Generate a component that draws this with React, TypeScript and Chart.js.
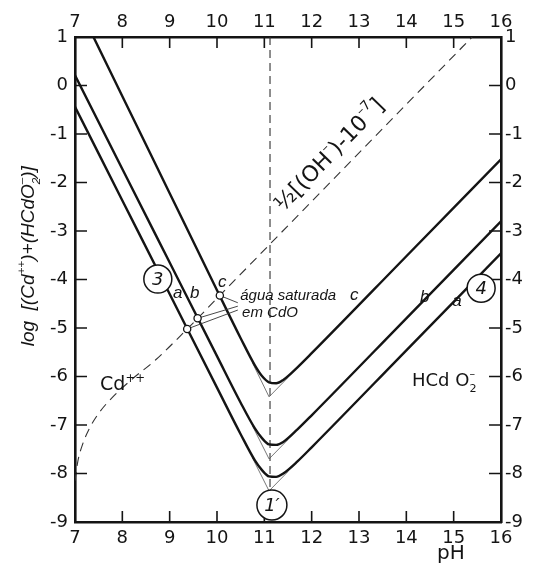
import { useEffect, useRef } from "react";
import { Chart, registerables } from "chart.js";

Chart.register(...registerables);

const INK = "#141414";
const THIN = "#555555";

// axis ticks
const phTicks = [7, 8, 9, 10, 11, 12, 13, 14, 15, 16];
const logTicks = [1, 0, -1, -2, -3, -4, -5, -6, -7, -8, -9];

// solubility curves a, b, c: log[(Cd++)+(HCdO2-)] against pH
const curveA_pH = [7, 8, 9, 10, 10.5, 10.8, 10.95, 11.1, 11.25, 11.4, 11.7, 12, 14, 16];
const curveA_log = [-0.44, -2.37, -4.3, -6.23, -7.19, -7.73, -7.93, -8.06, -8.07, -8.0, -7.75, -7.46, -5.46, -3.46];

const curveB_pH = [7, 8, 9, 10, 10.5, 10.8, 10.95, 11.1, 11.25, 11.4, 11.7, 12, 14, 16];
const curveB_log = [0.21, -1.72, -3.65, -5.58, -6.54, -7.07, -7.27, -7.4, -7.41, -7.35, -7.09, -6.8, -4.8, -2.8];

const curveC_pH = [7.3, 8, 9, 10, 10.5, 10.8, 10.95, 11.1, 11.25, 11.4, 11.7, 12, 14, 16];
const curveC_log = [1.18, -0.22, -2.22, -4.22, -5.21, -5.77, -5.99, -6.12, -6.14, -6.07, -5.81, -5.52, -3.52, -1.52];

// straight asymptotes meeting under each minimum
const tipA_pH = [10.75, 11.1, 11.5];
const tipA_log = [-7.68, -8.36, -7.96];
const tipB_pH = [10.75, 11.1, 11.5];
const tipB_log = [-7.02, -7.7, -7.3];
const tipC_pH = [10.75, 11.1, 11.5];
const tipC_log = [-5.72, -6.42, -6.02];

// 1/2[(OH-) - 1e-7] line
const ohLine_pH = [7.0, 7.06, 7.16, 7.3, 7.5, 7.8, 8.2, 8.7, 9.37, 10.06, 15.39];
const ohLine_log = [-8.15, -7.75, -7.4, -7.08, -6.76, -6.42, -6.06, -5.66, -5.02, -4.33, 1.0];

// vertical at the minimum
const minLine_pH = [11.12, 11.12];
const minLine_log = [1, -8.34];

// water saturated with CdO: where the OH- line meets a, b, c
const satPoint_pH = [9.37, 9.59, 10.06];
const satPoint_log = [-5.02, -4.8, -4.33];
const leaderEnd_pH = [10.44, 10.44, 10.44];
const leaderEnd_log = [-4.63, -4.55, -4.48];

const pts = (xs: number[], ys: number[]) => xs.map((x, i) => ({ x, y: ys[i] }));

type Part = { t: string; s?: number; dy?: number; hold?: boolean };

function richWidth(ctx: CanvasRenderingContext2D, parts: Part[], size: number, family: string, style: string) {
  let w = 0;
  for (const p of parts) {
    ctx.font = `${style} ${size * (p.s ?? 1)}px ${family}`;
    if (!p.hold) w += ctx.measureText(p.t).width;
  }
  return w;
}

function drawRich(
  ctx: CanvasRenderingContext2D,
  parts: Part[],
  x: number,
  y: number,
  size: number,
  family: string,
  style: string,
  align: "left" | "center" = "left"
) {
  const w = richWidth(ctx, parts, size, family, style);
  let cx = align === "center" ? x - w / 2 : x;
  ctx.textAlign = "left";
  ctx.textBaseline = "alphabetic";
  for (const p of parts) {
    ctx.font = `${style} ${size * (p.s ?? 1)}px ${family}`;
    ctx.fillText(p.t, cx, y + (p.dy ?? 0) * size);
    if (!p.hold) cx += ctx.measureText(p.t).width;
  }
}

const SANS = "'Liberation Sans', Arial, sans-serif";
const LETTER = "'DejaVu Sans', sans-serif";

const diagramPlugin = {
  id: "cdDiagram",
  afterDatasetsDraw(chart: any) {
    const { ctx, chartArea: a, scales } = chart;
    const X = (v: number) => scales.x.getPixelForValue(v);
    const Y = (v: number) => scales.y.getPixelForValue(v);
    ctx.save();
    ctx.fillStyle = INK;
    ctx.strokeStyle = INK;

    // inward ticks
    ctx.lineWidth = 1.6;
    ctx.beginPath();
    for (const v of phTicks.slice(1, -1)) {
      const x = X(v);
      ctx.moveTo(x, a.bottom);
      ctx.lineTo(x, a.bottom - 11);
      ctx.moveTo(x, a.top);
      ctx.lineTo(x, a.top + 11);
    }
    for (const v of logTicks.slice(1, -1)) {
      const y = Y(v);
      ctx.moveTo(a.left, y);
      ctx.lineTo(a.left + 12, y);
      ctx.moveTo(a.right, y);
      ctx.lineTo(a.right - 12, y);
    }
    ctx.stroke();

    // circled labels
    const circled = (ph: number, lg: number, r: number, text: string) => {
      const cx = X(ph);
      const cy = Y(lg);
      ctx.beginPath();
      ctx.fillStyle = "#ffffff";
      ctx.arc(cx, cy, r, 0, Math.PI * 2);
      ctx.fill();
      ctx.lineWidth = 1.5;
      ctx.stroke();
      ctx.fillStyle = INK;
      ctx.font = `italic 18px ${LETTER}`;
      ctx.textAlign = "center";
      ctx.textBaseline = "middle";
      ctx.fillText(text, cx, cy + 1);
    };
    circled(8.75, -3.99, 14, "3");
    circled(15.58, -4.18, 14, "4");
    circled(11.16, -8.65, 15, "1\u2032");

    // curve letters
    const letter = (ph: number, lg: number, t: string) => {
      ctx.font = `italic 17px ${SANS}`;
      ctx.textAlign = "left";
      ctx.textBaseline = "alphabetic";
      ctx.fillText(t, X(ph), Y(lg));
    };
    letter(9.07, -4.38, "a");
    letter(9.43, -4.38, "b");
    letter(10.02, -4.15, "c");
    letter(12.81, -4.42, "c");
    letter(14.29, -4.46, "b");
    letter(14.97, -4.55, "a");

    ctx.font = `italic 15px ${SANS}`;
    ctx.fillText("água saturada", X(10.49), Y(-4.42));
    ctx.fillText("em CdO", X(10.53), Y(-4.77));

    // species fields
    drawRich(ctx, [{ t: "Cd" }, { t: "++", s: 0.62, dy: -0.45 }], X(7.53), Y(-6.28), 19, LETTER, "normal");
    drawRich(
      ctx,
      [{ t: "HCd O" }, { t: "2", s: 0.62, dy: 0.3, hold: true }, { t: "\u2013", s: 0.62, dy: -0.5 }],
      X(14.12),
      Y(-6.2),
      18,
      LETTER,
      "normal"
    );

    // label along the OH- line
    ctx.save();
    ctx.translate(X(11.4), Y(-2.62));
    ctx.rotate((-46 * Math.PI) / 180);
    drawRich(
      ctx,
      [
        { t: "½" },
        { t: "[(OH" },
        { t: "\u2013", s: 0.6, dy: -0.5 },
        { t: ")-10" },
        { t: "\u20137", s: 0.6, dy: -0.5 },
        { t: "]" },
      ],
      0,
      0,
      22,
      LETTER,
      "normal"
    );
    ctx.restore();

    // y axis title
    ctx.save();
    ctx.translate(X(7) - 47, Y(-3.52));
    ctx.rotate(-Math.PI / 2);
    drawRich(
      ctx,
      [
        { t: "log  [(Cd" },
        { t: "++", s: 0.62, dy: -0.45 },
        { t: ")+(HCdO" },
        { t: "2", s: 0.62, dy: 0.3, hold: true },
        { t: "\u2013", s: 0.62, dy: -0.5 },
        { t: ")]" },
      ],
      0,
      6,
      19,
      SANS,
      "italic",
      "center"
    );
    ctx.restore();

    // x axis title
    ctx.font = `20px ${LETTER}`;
    ctx.textAlign = "left";
    ctx.textBaseline = "alphabetic";
    ctx.fillText("pH", X(14.65), a.bottom + 37);

    ctx.restore();
  },
};

const tickFont = { family: "'DejaVu Sans', sans-serif", size: 18 };

export default function App() {
  const ref = useRef<HTMLCanvasElement | null>(null);

  useEffect(() => {
    if (!ref.current) return;
    const line = (xs: number[], ys: number[], extra: any = {}) => ({
      type: "scatter" as const,
      data: pts(xs, ys),
      showLine: true,
      borderColor: INK,
      borderWidth: 2.4,
      pointRadius: 0,
      xAxisID: "x",
      yAxisID: "y",
      ...extra,
    });

    const leaders = satPoint_pH.map((p, i) =>
      line([p, leaderEnd_pH[i]], [satPoint_log[i], leaderEnd_log[i]], { borderWidth: 0.9, borderColor: "#333" })
    );

    const chart = new Chart(ref.current, {
      type: "scatter",
      data: {
        datasets: [
          {
            type: "scatter",
            data: pts(satPoint_pH, satPoint_log),
            pointRadius: 3.6,
            pointBackgroundColor: "#ffffff",
            pointBorderColor: INK,
            pointBorderWidth: 1.3,
            showLine: false,
            xAxisID: "x",
            yAxisID: "y",
          },
          ...leaders,
          line(curveA_pH, curveA_log, { cubicInterpolationMode: "monotone" }),
          line(curveB_pH, curveB_log, { cubicInterpolationMode: "monotone" }),
          line(curveC_pH, curveC_log, { cubicInterpolationMode: "monotone" }),
          line(tipA_pH, tipA_log, { borderWidth: 0.8, borderColor: THIN }),
          line(tipB_pH, tipB_log, { borderWidth: 0.8, borderColor: THIN }),
          line(tipC_pH, tipC_log, { borderWidth: 0.8, borderColor: THIN }),
          line(ohLine_pH, ohLine_log, {
            borderWidth: 1.1,
            borderColor: "#333",
            borderDash: [9, 6],
            cubicInterpolationMode: "monotone",
          }),
          line(minLine_pH, minLine_log, { borderWidth: 1.1, borderColor: "#333", borderDash: [8, 5] }),
        ],
      } as any,
      options: {
        responsive: false,
        animation: false,
        layout: { padding: 0 },
        plugins: { legend: { display: false }, tooltip: { enabled: false } },
        scales: {
          x: {
            type: "linear",
            position: "bottom",
            min: 7,
            max: 16,
            afterBuildTicks: (s: any) => {
              s.ticks = phTicks.map((v) => ({ value: v }));
            },
            afterFit: (s: any) => {
              s.height = 43;
            },
            grid: { display: false, drawTicks: false },
            border: { display: true, width: 2.6, color: INK },
            ticks: { font: tickFont, color: INK, padding: 6, maxRotation: 0 },
          },
          x2: {
            type: "linear",
            position: "top",
            min: 7,
            max: 16,
            afterBuildTicks: (s: any) => {
              s.ticks = phTicks.map((v) => ({ value: v }));
            },
            afterFit: (s: any) => {
              s.height = 37;
            },
            grid: { display: false, drawTicks: false },
            border: { display: true, width: 2.6, color: INK },
            ticks: { font: tickFont, color: INK, padding: 4, maxRotation: 0 },
          },
          y: {
            type: "linear",
            position: "left",
            min: -9,
            max: 1,
            afterBuildTicks: (s: any) => {
              s.ticks = logTicks.map((v) => ({ value: v }));
            },
            afterFit: (s: any) => {
              s.width = 75;
            },
            grid: { display: false, drawTicks: false },
            border: { display: true, width: 2.6, color: INK },
            ticks: { font: tickFont, color: INK, padding: 7 },
          },
          y2: {
            type: "linear",
            position: "right",
            min: -9,
            max: 1,
            afterBuildTicks: (s: any) => {
              s.ticks = logTicks.map((v) => ({ value: v }));
            },
            afterFit: (s: any) => {
              s.width = 32;
            },
            grid: { display: false, drawTicks: false },
            border: { display: true, width: 2.6, color: INK },
            ticks: { font: tickFont, color: INK, padding: 4 },
          },
        },
      } as any,
      plugins: [diagramPlugin],
    });
    return () => chart.destroy();
  }, []);

  return (
    <div style={{ position: "absolute", left: 0, top: 0, width: 533, height: 565, background: "#fff" }}>
      <canvas ref={ref} width={533} height={565} />
    </div>
  );
}
